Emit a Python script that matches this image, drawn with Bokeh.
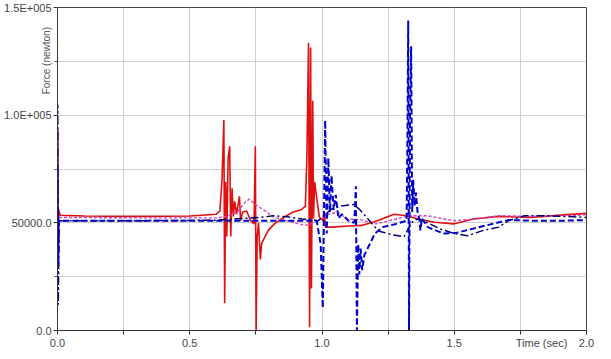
from bokeh.plotting import figure
from bokeh.models import FixedTicker
from bokeh.embed import file_html
from bokeh.resources import INLINE

# ---- data ----
red_t = [0.0, 0.001, 0.003, 0.005, 0.01, 0.1, 0.3, 0.5, 0.6, 0.614, 0.622, 0.629, 0.632, 0.636, 0.640,
         0.645, 0.651, 0.655, 0.660, 0.665, 0.670, 0.677, 0.682, 0.688, 0.692, 0.70, 0.715, 0.73, 0.743,
         0.748, 0.751, 0.755, 0.760, 0.767, 0.772, 0.785, 0.797, 0.82, 0.858, 0.89, 0.92, 0.937, 0.943,
         0.949, 0.953, 0.957, 0.960, 0.965, 0.968, 0.972, 0.98, 0.99, 1.004, 1.008, 1.013, 1.035, 1.10,
         1.15, 1.21, 1.272, 1.32, 1.364, 1.425, 1.498, 1.571, 1.668, 1.79, 1.912, 2.0]
red_f = [53000, 93000, 40000, 56000, 53500, 53200, 53000, 53200, 54000, 55500, 70000, 97700, 12600, 69000, 43700,
         80000, 85600, 43700, 66000, 53000, 60000, 54000, 58000, 62300, 51000, 55000, 55500, 51000, 49500,
         85600, 0, 43700, 50000, 33000, 40500, 43700, 46500, 49500, 52700, 55000, 56000, 57600, 81000,
         133600, 1500, 131400, 19500, 106700, 52000, 69000, 61600, 52700, 51000, 55500, 48000, 48000, 48500,
         48800, 51000, 54000, 53300, 51800, 50300, 49500, 51800, 53000, 52500, 53700, 54400]

mag_t = [0.0, 0.001, 0.003, 0.006, 0.3, 0.6, 0.64, 0.68, 0.712, 0.725, 0.748, 0.785, 0.82, 0.888, 0.937,
         0.97, 1.023, 1.06, 1.096, 1.144, 1.205, 1.28, 1.333, 1.40, 1.498, 1.583, 1.668, 1.79, 1.912, 2.0]
mag_f = [52000, 94000, 35000, 52500, 52300, 52300, 53000, 55000, 60000, 61000, 58500, 55500, 52500, 50300, 48800,
         50000, 54000, 54800, 51800, 51500, 49500, 51800, 53300, 53300, 51000, 51800, 53300, 53000, 53300, 53700]

navy_t = [0.0, 0.001, 0.003, 0.006, 0.3, 0.6, 0.7, 0.767, 0.815, 0.87, 0.925, 0.986, 1.035, 1.07, 1.12,
          1.144, 1.169, 1.2, 1.22, 1.272, 1.31, 1.325, 1.345, 1.364, 1.40, 1.45, 1.50, 1.55, 1.61, 1.668,
          1.705, 1.766, 1.85, 1.95, 2.0]
navy_f = [51000, 105000, 12000, 51000, 51000, 51200, 52000, 52500, 53300, 52800, 51800, 51000, 56300, 57800, 58500,
          56000, 52500, 48000, 46000, 44300, 43500, 47000, 51000, 51800, 50000, 47000, 45000, 44000, 46500, 48000,
          51000, 53300, 53300, 52800, 52500]

blue_t = [0.0, 0.001, 0.003, 0.006, 0.5, 0.98, 0.995, 1.003, 1.012, 1.018, 1.024, 1.03, 1.036, 1.044, 1.052,
          1.062, 1.075, 1.10, 1.122, 1.128, 1.132, 1.137, 1.141, 1.146, 1.152, 1.16, 1.18, 1.20, 1.23, 1.28,
          1.32, 1.323, 1.326, 1.329, 1.333, 1.337, 1.341, 1.345, 1.35, 1.355, 1.362, 1.368, 1.372, 1.378,
          1.40, 1.461, 1.51, 1.571, 1.644, 1.705, 1.79, 1.912, 2.0]
blue_f = [51000, 75000, 30000, 51000, 51000, 51000, 40000, 10500, 97600, 45000, 80000, 55000, 72000, 56000, 63000,
          52000, 54000, 51000, 50000, 67000, 0, 40000, 26000, 38000, 28000, 35000, 40000, 45000, 48000, 49500,
          51000, 90000, 144000, 0, 100000, 132000, 55000, 70000, 58000, 64000, 54000, 52000, 46500, 52000,
          48000, 45000, 45400, 47300, 49500, 51300, 51000, 51000, 51300]

x_ticks = [0.0, 0.5, 1.0, 1.5, 2.0]
x_minor = [0.25, 0.75, 1.25, 1.75]
x_labels = ["0.0", "0.5", "1.0", "1.5", "2.0"]
y_ticks = [0, 50000, 100000, 150000]
y_minor = [25000, 75000, 125000]
y_labels = ["0.0", "50000.0", "1.0E+005", "1.5E+005"]
x_title = "Time (sec)"
x_title_pos = 1.83
y_title = "Force (newton)"

FONT = "Liberation Sans"
NB = "\u00a0"

p = figure(width=595, height=351, x_range=(0, 2), y_range=(0, 150000),
           min_border_left=57, min_border_right=9, min_border_top=7, min_border_bottom=0,
           output_backend="svg", toolbar_location=None)
p.background_fill_color = "white"
p.border_fill_color = "white"
p.outline_line_color = "#444444"
p.outline_line_width = 1

# x axis: tick marks all drawn as minor ticks; labels (incl. the axis title) as major labels
x_lab_ticks = x_ticks + [x_title_pos]
p.xaxis.ticker = FixedTicker(ticks=x_lab_ticks, minor_ticks=sorted(x_ticks + x_minor))
overrides = {t: l for t, l in zip(x_ticks, x_labels)}
overrides[x_title_pos] = x_title
p.xaxis.major_label_overrides = overrides
p.xaxis.major_tick_line_color = None
p.xaxis.major_tick_out = 4
p.xaxis.minor_tick_out = 4
p.xaxis.minor_tick_line_color = "#333333"

p.yaxis.ticker = FixedTicker(ticks=y_ticks, minor_ticks=y_minor)
p.yaxis.major_label_overrides = {t: l for t, l in zip(y_ticks, y_labels)}
p.yaxis.major_tick_line_color = "#333333"
p.yaxis.minor_tick_line_color = "#555555"
p.yaxis.major_tick_out = 4
p.yaxis.minor_tick_out = 3

for ax in (p.xaxis, p.yaxis):
    ax.axis_line_color = "#333333"
    ax.major_tick_in = 0
    ax.minor_tick_in = 0
    ax.major_label_text_font = FONT
    ax.major_label_text_font_size = "11px"
    ax.major_label_text_color = "#444444"
    ax.major_label_standoff = 2

p.yaxis.axis_label = NB * 78 + y_title
p.yaxis.axis_label_text_font = FONT
p.yaxis.axis_label_text_font_style = "normal"
p.yaxis.axis_label_text_color = "#555555"
p.yaxis.axis_label_text_font_size = "10px"
p.yaxis.axis_label_standoff_mode = "axis"
p.yaxis.axis_label_align = "center"
p.yaxis.axis_label_standoff = 6

for g in (p.xgrid, p.ygrid):
    g.grid_line_color = "#cfcfcf"
    g.minor_grid_line_color = "#cfcfcf"
p.xgrid.ticker = FixedTicker(ticks=x_ticks, minor_ticks=x_minor)
p.ygrid.ticker = FixedTicker(ticks=y_ticks, minor_ticks=y_minor)

p.line(red_t, red_f, line_color="#e01010", line_width=1.6)
p.line(mag_t, mag_f, line_color="#d040c0", line_width=1.4, line_dash="3 2")
p.line(navy_t, navy_f, line_color="#000070", line_width=1.5, line_dash="8 3 2 3")
p.line(blue_t, blue_f, line_color="#0000cc", line_width=2, line_dash="6 3")

open("out.html", "w").write(file_html(p, INLINE))
